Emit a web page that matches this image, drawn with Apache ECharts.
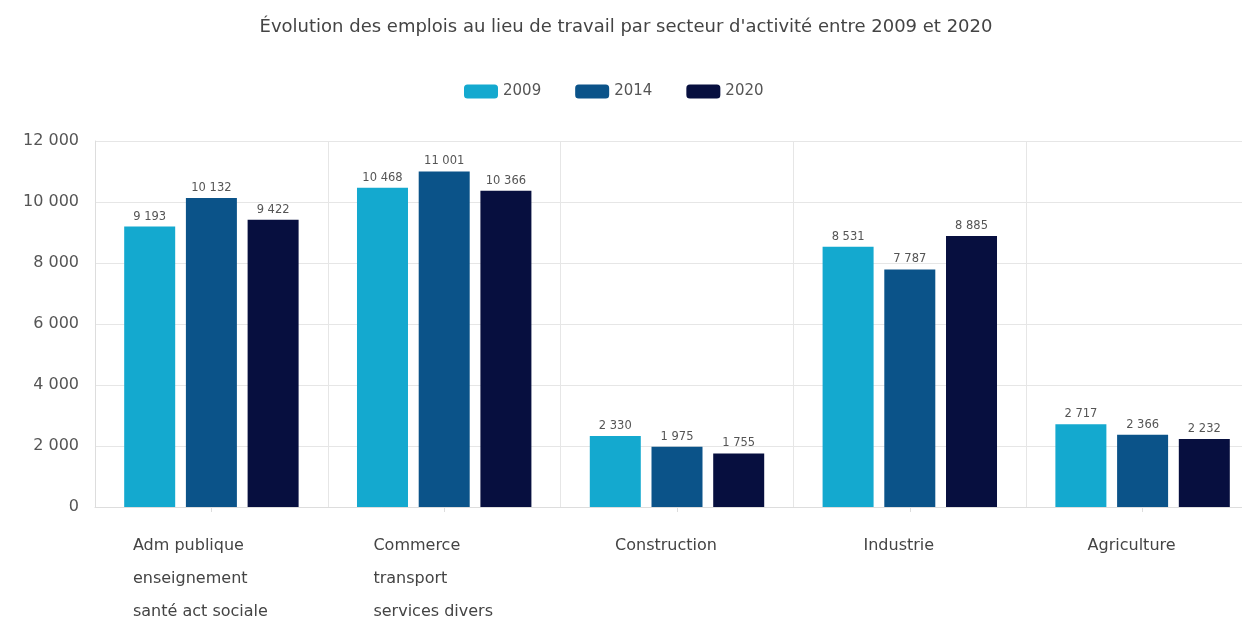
<!DOCTYPE html>
<html><head><meta charset="utf-8">
<script src="https://cdn.jsdelivr.net/npm/echarts@6/dist/echarts.min.js"></script>
<style>html,body{margin:0;padding:0;background:#fff;overflow:hidden}#c{width:1242px;height:622px}</style>
</head><body><div id="c"></div>
<script>
const categories = ["Adm publique\nenseignement\nsanté act sociale", "Commerce\ntransport\nservices divers", "Construction", "Industrie", "Agriculture"];
const seriesNames = ["2009", "2014", "2020"];
const v2009 = [9193, 10468, 2330, 8531, 2717];
const v2014 = [10132, 11001, 1975, 7787, 2366];
const v2020 = [9422, 10366, 1755, 8885, 2232];
const colors = ["#14a9cf", "#0b5389", "#070f3f"];
const yTicks = [0, 2000, 4000, 6000, 8000, 10000, 12000];

const fmt = v => String(v).replace(/\B(?=(\d{3})+(?!\d))/g, " ");
const font = "'DejaVu Sans', sans-serif";
const data = [v2009, v2014, v2020];

const chart = echarts.init(document.getElementById('c'));
chart.setOption({
  animation: false,
  color: colors,
  textStyle: {fontFamily: font},
  title: {text: "Évolution des emplois au lieu de travail par secteur d'activité entre 2009 et 2020",
    left: 621, textAlign: 'center', top: 13, textStyle: {fontFamily: font, fontSize: 18, fontWeight: 'normal', color: '#444'}},
  legend: {data: seriesNames, top: 79, left: 459, itemWidth: 34, itemHeight: 14, itemGap: 34,
    icon: 'roundRect', textStyle: {fontSize: 15, color: '#555', fontFamily: font}},
  grid: {left: 95, top: 141, height: 366, width: 1164, containLabel: false, outerBoundsMode: 'none'},
  xAxis: {type: 'category', data: categories,
    axisLine: {lineStyle: {color: '#ddd'}},
    axisTick: {show: true, alignWithLabel: true, length: 5, lineStyle: {color: '#ddd'}},
    splitLine: {show: true, lineStyle: {color: '#e6e6e6'}},
    axisLabel: {margin: 22, interval: 0, color: '#444', fontSize: 16, lineHeight: 33, padding: [0, 22, 0, 0],
      formatter: v => v.split('\n').map(s => '{a|' + s + '}').join('\n'),
      rich: {a: {align: 'left', fontSize: 16, lineHeight: 33, color: '#444', fontFamily: font}}}
  },
  yAxis: {type: 'value', min: 0, max: 12000, interval: 2000,
    axisLine: {show: true, lineStyle: {color: '#ddd'}},
    splitLine: {lineStyle: {color: '#e6e6e6'}},
    axisLabel: {margin: 16, color: '#555', fontSize: 16, formatter: v => fmt(v)}},
  series: seriesNames.map((n, i) => ({
    name: n, type: 'bar', data: data[i], barWidth: 51, barGap: '21%',
    label: {show: true, position: 'top', distance: 4, fontSize: 11.5, color: '#555', formatter: p => fmt(p.value)}
  }))
});
</script></body></html>
